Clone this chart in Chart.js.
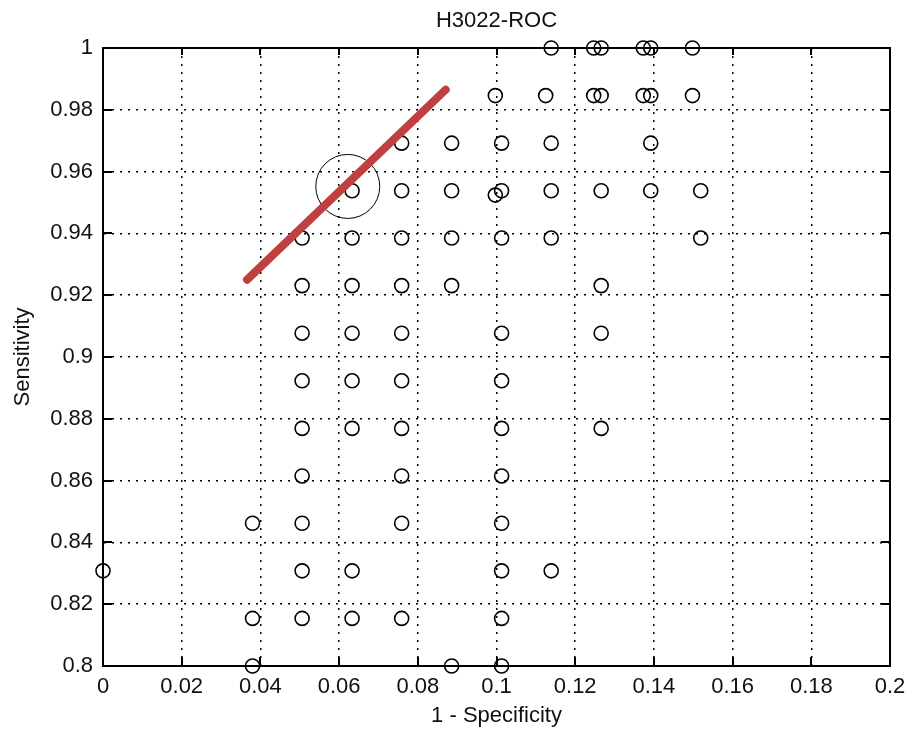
<!DOCTYPE html>
<html lang="en">
<head>
<meta charset="UTF-8">
<title>H3022-ROC</title>
<script src="https://cdn.jsdelivr.net/npm/chart.js@4"></script>
<style>
  html, body { margin: 0; padding: 0; background: #fff; }
</style>
</head>
<body>
<canvas id="roc" width="908" height="730"></canvas>
<script>
// labels
const chartTitle = 'H3022-ROC';
const xLabel = '1 - Specificity';
const yLabel = 'Sensitivity';

// tick values
const xTicks = [0, 0.02, 0.04, 0.06, 0.08, 0.1, 0.12, 0.14, 0.16, 0.18, 0.2];
const yTicks = [0.8, 0.82, 0.84, 0.86, 0.88, 0.9, 0.92, 0.94, 0.96, 0.98, 1];

// ROC points, grouped by sensitivity level (one row of circles each)
const tprLevels = [1, 0.9846, 0.9692, 0.9538, 0.9385, 0.9231, 0.9077, 0.8923, 0.8769, 0.8615, 0.8462, 0.8308, 0.8154, 0.8];
const fprRows = [
  [0.1139, 0.1247, 0.1266, 0.1373, 0.1392, 0.1498],
  [0.0997, 0.1125, 0.1247, 0.1266, 0.1373, 0.1392, 0.1498],
  [0.0759, 0.0886, 0.1013, 0.1139, 0.1392],
  [0.0633, 0.0759, 0.0886, 0.1013, 0.1139, 0.1266, 0.1392, 0.1519],
  [0.0506, 0.0633, 0.0759, 0.0886, 0.1013, 0.1139, 0.1519],
  [0.0506, 0.0633, 0.0759, 0.0886, 0.1266],
  [0.0506, 0.0633, 0.0759, 0.1013, 0.1266],
  [0.0506, 0.0633, 0.0759, 0.1013],
  [0.0506, 0.0633, 0.0759, 0.1013, 0.1266],
  [0.0506, 0.0759, 0.1013],
  [0.038, 0.0506, 0.0759, 0.1013],
  [0, 0.0506, 0.0633, 0.1013, 0.1139],
  [0.038, 0.0506, 0.0633, 0.0759, 0.1013],
  [0.038, 0.0886, 0.1013]
];
// the extra, slightly lower point next to 0.1 on the 0.954 row
const extraFpr = [0.0997];
const extraTpr = [0.9524];

// red line and the circled operating point
const lineFpr = [0.0366, 0.0871];
const lineTpr = [0.925, 0.9865];
const pickFpr = [0.0622];
const pickTpr = [0.9552];

const rocPoints = [];
tprLevels.forEach((tpr, i) => {
  fprRows[i].forEach(fpr => rocPoints.push({ x: fpr, y: tpr }));
});
extraFpr.forEach((fpr, i) => rocPoints.push({ x: fpr, y: extraTpr[i] }));

const font = { family: '"Liberation Sans", Arial, sans-serif', size: 22 };
const ink = '#111';

// box round the axes and inward tick marks, like the old figure window
const boxPlugin = {
  id: 'boxPlugin',
  beforeDatasetsDraw(chart) {
    const { ctx, chartArea: a, scales: { x, y } } = chart;
    ctx.save();
    ctx.strokeStyle = '#000';
    ctx.lineWidth = 2;
    ctx.strokeRect(a.left, a.top, a.right - a.left, a.bottom - a.top);
    ctx.beginPath();
    x.ticks.forEach(t => {
      const px = Math.round(x.getPixelForValue(t.value));
      ctx.moveTo(px, a.bottom); ctx.lineTo(px, a.bottom - 9);
      ctx.moveTo(px, a.top); ctx.lineTo(px, a.top + 7);
    });
    y.ticks.forEach(t => {
      const py = Math.round(y.getPixelForValue(t.value));
      ctx.moveTo(a.left, py); ctx.lineTo(a.left + 9, py);
      ctx.moveTo(a.right, py); ctx.lineTo(a.right - 9, py);
    });
    ctx.stroke();
    ctx.restore();
  }
};

const gridOpts = { color: '#000', lineWidth: 1.5, drawTicks: false };
const borderOpts = { color: '#000', width: 2, dash: [2, 6] };

new Chart(document.getElementById('roc'), {
  type: 'scatter',
  data: {
    datasets: [
      {
        type: 'line',
        data: lineFpr.map((v, i) => ({ x: v, y: lineTpr[i] })),
        borderColor: '#c0403f',
        borderWidth: 8,
        borderCapStyle: 'round',
        pointRadius: 0,
        fill: false,
        order: 0
      },
      {
        data: pickFpr.map((v, i) => ({ x: v, y: pickTpr[i] })),
        pointRadius: 32,
        pointBorderWidth: 1,
        pointBorderColor: '#000',
        pointBackgroundColor: 'rgba(0,0,0,0)',
        order: 1
      },
      {
        data: rocPoints,
        pointRadius: 7,
        pointBorderWidth: 1.6,
        pointBorderColor: '#000',
        pointBackgroundColor: 'rgba(0,0,0,0)',
        clip: false,
        order: 2
      }
    ]
  },
  options: {
    responsive: false,
    animation: false,
    // the big marker would otherwise push the plot box in by its radius
    layout: { autoPadding: false, padding: { left: 0, right: 18, top: 0, bottom: 0 } },
    plugins: {
      legend: { display: false },
      tooltip: { enabled: false }
    },
    scales: {
      x: {
        type: 'linear',
        min: 0,
        max: 0.2,
        afterBuildTicks: s => { s.ticks = xTicks.map(v => ({ value: v })); },
        afterFit: s => { s.height = 64; s.paddingLeft = 0; s.paddingRight = 0; },
        ticks: {
          color: ink,
          font,
          padding: 8,
          maxRotation: 0,
          callback: v => String(+v.toFixed(2))
        },
        grid: gridOpts,
        border: borderOpts,
        title: { display: true, text: xLabel, color: ink, font, padding: { top: 0, bottom: 1 } }
      },
      // top axis only carries the chart title, centred over the plot box
      xTop: {
        type: 'linear',
        position: 'top',
        min: 0,
        max: 0.2,
        afterFit: s => { s.height = 48; s.paddingLeft = 0; s.paddingRight = 0; },
        ticks: { display: false },
        grid: { display: false, drawTicks: false },
        border: { display: false },
        title: { display: true, text: chartTitle, color: ink, font, padding: { top: 8, bottom: 0 } }
      },
      y: {
        type: 'linear',
        min: 0.8,
        max: 1,
        afterBuildTicks: s => { s.ticks = yTicks.map(v => ({ value: v })); },
        afterFit: s => { s.width = 103; },
        ticks: {
          color: ink,
          font,
          padding: 10,
          callback: v => String(+v.toFixed(2))
        },
        grid: gridOpts,
        border: borderOpts,
        title: { display: true, text: yLabel, color: ink, font, padding: { top: 10, bottom: 0 } }
      }
    }
  },
  plugins: [boxPlugin]
});
</script>
</body>
</html>
